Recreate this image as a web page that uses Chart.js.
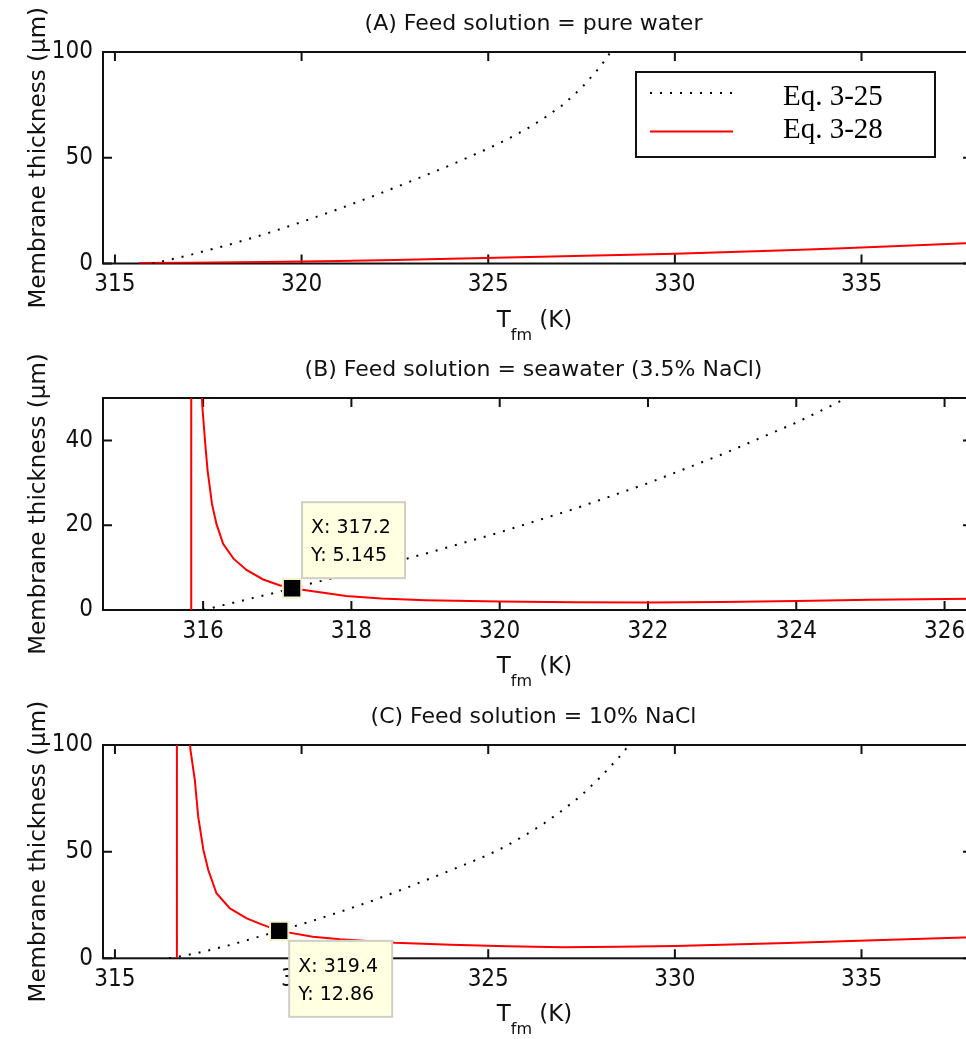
<!DOCTYPE html>
<html>
<head>
<meta charset="utf-8">
<title>Membrane thickness vs feed temperature</title>
<script src="https://cdn.jsdelivr.net/npm/chart.js@4.4.0/dist/chart.umd.min.js"></script>
<style>
  html, body { margin: 0; padding: 0; background: #fff; overflow: hidden; }
  canvas { position: absolute; left: 0; }
</style>
</head>
<body>
<canvas id="chartA" width="976" height="345" style="top:0"></canvas>
<canvas id="chartB" width="976" height="350" style="top:345px"></canvas>
<canvas id="chartC" width="976" height="344" style="top:695px"></canvas>
<script>
const seriesNames = ['Eq. 3-25', 'Eq. 3-28'];
const panelTitles = [
  '(A) Feed solution = pure water',
  '(B) Feed solution = seawater (3.5% NaCl)',
  '(C) Feed solution = 10% NaCl'
];
const yAxisLabel = 'Membrane thickness (\u03bcm)';

const tempTicksWide = [315, 320, 325, 330, 335];
const tempTicksSea = [316, 318, 320, 322, 324, 326];
const thickTicks100 = [0, 50, 100];
const thickTicks50 = [0, 20, 40];

// (A) pure water: [T_fm (K), thickness (um)]
const eq25Pure = [[316.0, 0], [316.5, 1.9], [317, 4.0], [318, 8.6], [319, 13.8], [320, 19.6],
  [321, 25.8], [322, 32.4], [323, 39.4], [324, 46.6], [325, 54.4], [325.5, 58.6], [326, 63.3],
  [326.5, 68.8], [327, 75], [327.5, 83], [328, 93], [328.2, 98], [328.4, 103]];
const eq28Pure = [[315.65, 0.2], [317, 0.4], [319, 0.7], [321, 1.2], [322.5, 1.7], [324, 2.2],
  [325.5, 2.8], [327, 3.4], [328.5, 4.0], [330, 4.6], [331.5, 5.4], [333, 6.3], [334.5, 7.2],
  [336, 8.3], [337.96, 9.7]];

// (B) seawater, 3.5% NaCl
const eq25Sea = [[316.0, 0], [316.5, 2.1], [317, 4.2], [317.2, 5.145], [318, 8.6], [319, 13.3],
  [320, 18.3], [321, 23.8], [322, 29.9], [323, 36.7], [324, 44.2], [324.5, 48.4], [324.8, 51.2]];
const eq28Sea = [[315.84, 0], [315.84, 300], [315.96, 60], [315.99, 48], [316.03, 39], [316.06, 33],
  [316.12, 25], [316.18, 20.3], [316.27, 15.6], [316.41, 12.1], [316.59, 9.4], [316.81, 7.2],
  [317.03, 5.85], [317.2, 5.145], [317.48, 4.4], [317.93, 3.3], [318.4, 2.7], [319, 2.3],
  [320, 2.0], [321, 1.8], [322, 1.75], [323, 1.9], [324, 2.15], [325, 2.4], [326.37, 2.65]];
const tipSea = [317.2, 5.145];

// (C) 10% NaCl
const eq25Brine = [[316.45, 0], [317.2, 2.4], [318.1, 6.3], [319.4, 12.86], [320.3, 17.6],
  [321.1, 22.2], [321.9, 27], [322.7, 32.3], [323.5, 37.8], [324.3, 43.4], [325, 48.5],
  [325.5, 52.8], [326, 57.8], [326.5, 63.3], [327, 69.5], [327.5, 76.5], [328, 84.8],
  [328.5, 94.2], [328.85, 101.5]];
const eq28Brine = [[316.66, 0], [316.66, 500], [316.99, 110], [317.02, 98], [317.14, 83.6],
  [317.23, 66.4], [317.37, 50.8], [317.5, 41.4], [317.72, 30.5], [318.08, 23.4], [318.53, 18.75],
  [318.93, 15.9], [319.4, 12.86], [320.3, 10.1], [321.03, 8.9], [322.5, 7.3], [324, 6.3],
  [325.5, 5.6], [327, 5.2], [328.5, 5.4], [330, 5.8], [331.5, 6.5], [333, 7.2], [334.5, 8.0],
  [336, 8.8], [337.96, 9.9]];
const tipBrine = [319.4, 12.86];

const INK = '#111';
const SANS = "'DejaVu Sans', sans-serif";
const tickFont = { family: "'Liberation Sans Narrow', 'DejaVu Sans Condensed', sans-serif", size: 24 };

// axes box with inward ticks, titles, legend and data tips (MATLAB look)
const panelDecor = {
  id: 'panelDecor',
  beforeDatasetsDraw(chart) {
    const { ctx, chartArea: a, scales } = chart;
    const tl = 9;
    ctx.save();
    ctx.strokeStyle = INK;
    ctx.lineWidth = 2;
    ctx.strokeRect(a.left, a.top, a.right - a.left, a.bottom - a.top);
    ctx.beginPath();
    scales.x.ticks.forEach(t => {
      const px = scales.x.getPixelForValue(t.value);
      ctx.moveTo(px, a.bottom); ctx.lineTo(px, a.bottom - tl);
      ctx.moveTo(px, a.top); ctx.lineTo(px, a.top + tl);
    });
    scales.y.ticks.forEach(t => {
      const py = scales.y.getPixelForValue(t.value);
      ctx.moveTo(a.left, py); ctx.lineTo(a.left + tl, py);
      ctx.moveTo(a.right, py); ctx.lineTo(a.right - tl, py);
    });
    ctx.stroke();
    ctx.restore();
  },
  afterDraw(chart, args, opts) {
    const { ctx, chartArea: a } = chart;
    const cx = (a.left + a.right) / 2;
    ctx.save();
    ctx.fillStyle = INK;
    ctx.textBaseline = 'alphabetic';

    // title
    ctx.font = '22px ' + SANS;
    ctx.textAlign = 'center';
    ctx.fillText(opts.title, cx - 4, a.top - 22);

    // x label: T_fm (K)
    const main = '23px ' + SANS, sub = '16px ' + SANS;
    ctx.font = main;
    const wT = ctx.measureText('T').width, wK = ctx.measureText(' (K)').width;
    ctx.font = sub;
    const wS = ctx.measureText('fm').width;
    let x = cx - 3 - (wT + wS + wK) / 2;
    const base = a.bottom + 63;
    ctx.textAlign = 'left';
    ctx.font = main; ctx.fillText('T', x, base); x += wT;
    ctx.font = sub; ctx.fillText('fm', x, base + 13); x += wS;
    ctx.font = main; ctx.fillText(' (K)', x, base);

    // y label
    ctx.save();
    ctx.translate(45, (a.top + a.bottom) / 2);
    ctx.rotate(-Math.PI / 2);
    ctx.font = '23px ' + SANS;
    ctx.textAlign = 'center';
    ctx.fillText(yAxisLabel, 0, 0);
    ctx.restore();

    // legend box
    if (opts.legend) {
      const lx = a.left + 533, ly = a.top + 20, lw = 299, lh = 85;
      ctx.fillStyle = '#fff';
      ctx.fillRect(lx, ly, lw, lh);
      ctx.strokeStyle = INK;
      ctx.lineWidth = 2;
      ctx.strokeRect(lx, ly, lw, lh);
      const lineY = [21, 59.5], textY = [33, 66];
      chart.data.datasets.slice(0, 2).forEach((ds, i) => {
        ctx.beginPath();
        ctx.setLineDash(ds.borderDash || []);
        ctx.strokeStyle = ds.borderColor;
        ctx.lineWidth = ds.borderWidth;
        ctx.moveTo(lx + 14, ly + lineY[i]);
        ctx.lineTo(lx + 97, ly + lineY[i]);
        ctx.stroke();
        ctx.setLineDash([]);
        ctx.fillStyle = '#000';
        ctx.font = "29px 'Liberation Serif', serif";
        ctx.textAlign = 'left';
        ctx.fillText(ds.label, lx + 147, ly + textY[i]);
      });
    }

    // data tip
    if (opts.tip) {
      const [tx, ty] = opts.tip;
      const mx = chart.scales.x.getPixelForValue(tx);
      const my = chart.scales.y.getPixelForValue(ty);
      const bw = 103, bh = 76;
      const bx = mx + 10, by = opts.tipBelow ? my + 10 : my - 10 - bh;
      ctx.fillStyle = '#ffffe1';
      ctx.fillRect(bx, by, bw, bh);
      ctx.strokeStyle = '#cfcfc4';
      ctx.lineWidth = 2;
      ctx.strokeRect(bx, by, bw, bh);
      ctx.fillStyle = '#000';
      ctx.font = '19px ' + SANS;
      ctx.textAlign = 'left';
      ctx.fillText('X: ' + tx.toPrecision(4), bx + 9, by + 31);
      ctx.fillText('Y: ' + ty.toPrecision(4), bx + 9, by + 59);
    }
    ctx.restore();
  }
};

function makePanel(id, cfg) {
  const toXY = pts => pts.map(([x, y]) => ({ x, y }));
  const datasets = [
    { label: seriesNames[0], data: toXY(cfg.eq25), borderColor: '#000', borderWidth: 2,
      borderDash: [2, 8], pointRadius: 0 },
    { label: seriesNames[1], data: toXY(cfg.eq28), borderColor: '#ff0000', borderWidth: 2,
      pointRadius: 0 }
  ];
  if (cfg.tip) {
    datasets.push({ label: 'tip', data: toXY([cfg.tip]), showLine: false, order: -1,
      pointStyle: 'rect', pointRadius: 13, backgroundColor: '#000',
      borderColor: '#f7f3c6', borderWidth: 2 });
  }
  return new Chart(document.getElementById(id), {
    type: 'line',
    data: { datasets },
    options: {
      responsive: false,
      animation: false,
      events: [],
      layout: { autoPadding: false, padding: { top: cfg.top, right: 4, bottom: 0, left: 0 } },
      plugins: {
        legend: { display: false },
        tooltip: { enabled: false },
        panelDecor: { title: cfg.title, legend: cfg.legend, tip: cfg.tip, tipBelow: cfg.tipBelow }
      },
      scales: {
        x: {
          type: 'linear', min: cfg.xMin, max: cfg.xMax,
          afterBuildTicks: s => { s.ticks = cfg.xTicks.map(v => ({ value: v })); },
          afterFit: s => { s.height = cfg.xHeight; s.paddingLeft = 0; s.paddingRight = 0; },
          grid: { display: false, drawTicks: false },
          border: { display: false },
          ticks: { font: tickFont, color: INK, padding: 7, autoSkip: false, maxRotation: 0 }
        },
        y: {
          min: 0, max: cfg.yMax,
          afterBuildTicks: s => { s.ticks = cfg.yTicks.map(v => ({ value: v })); },
          afterFit: s => { s.width = 103; s.paddingTop = 0; s.paddingBottom = 0; },
          grid: { display: false, drawTicks: false },
          border: { display: false },
          ticks: { font: tickFont, color: INK, padding: 10 }
        }
      }
    },
    plugins: [panelDecor]
  });
}

makePanel('chartA', { title: panelTitles[0], eq25: eq25Pure, eq28: eq28Pure, legend: true,
  xMin: 314.68, xMax: 337.96, xTicks: tempTicksWide, yMax: 100, yTicks: thickTicks100,
  top: 52, xHeight: 81.5 });
makePanel('chartB', { title: panelTitles[1], eq25: eq25Sea, eq28: eq28Sea, tip: tipSea,
  xMin: 314.65, xMax: 326.37, xTicks: tempTicksSea, yMax: 50, yTicks: thickTicks50,
  top: 53, xHeight: 85 });
makePanel('chartC', { title: panelTitles[2], eq25: eq25Brine, eq28: eq28Brine, tip: tipBrine,
  tipBelow: true, xMin: 314.68, xMax: 337.96, xTicks: tempTicksWide, yMax: 100,
  yTicks: thickTicks100, top: 50, xHeight: 80.7 });
</script>
</body>
</html>
